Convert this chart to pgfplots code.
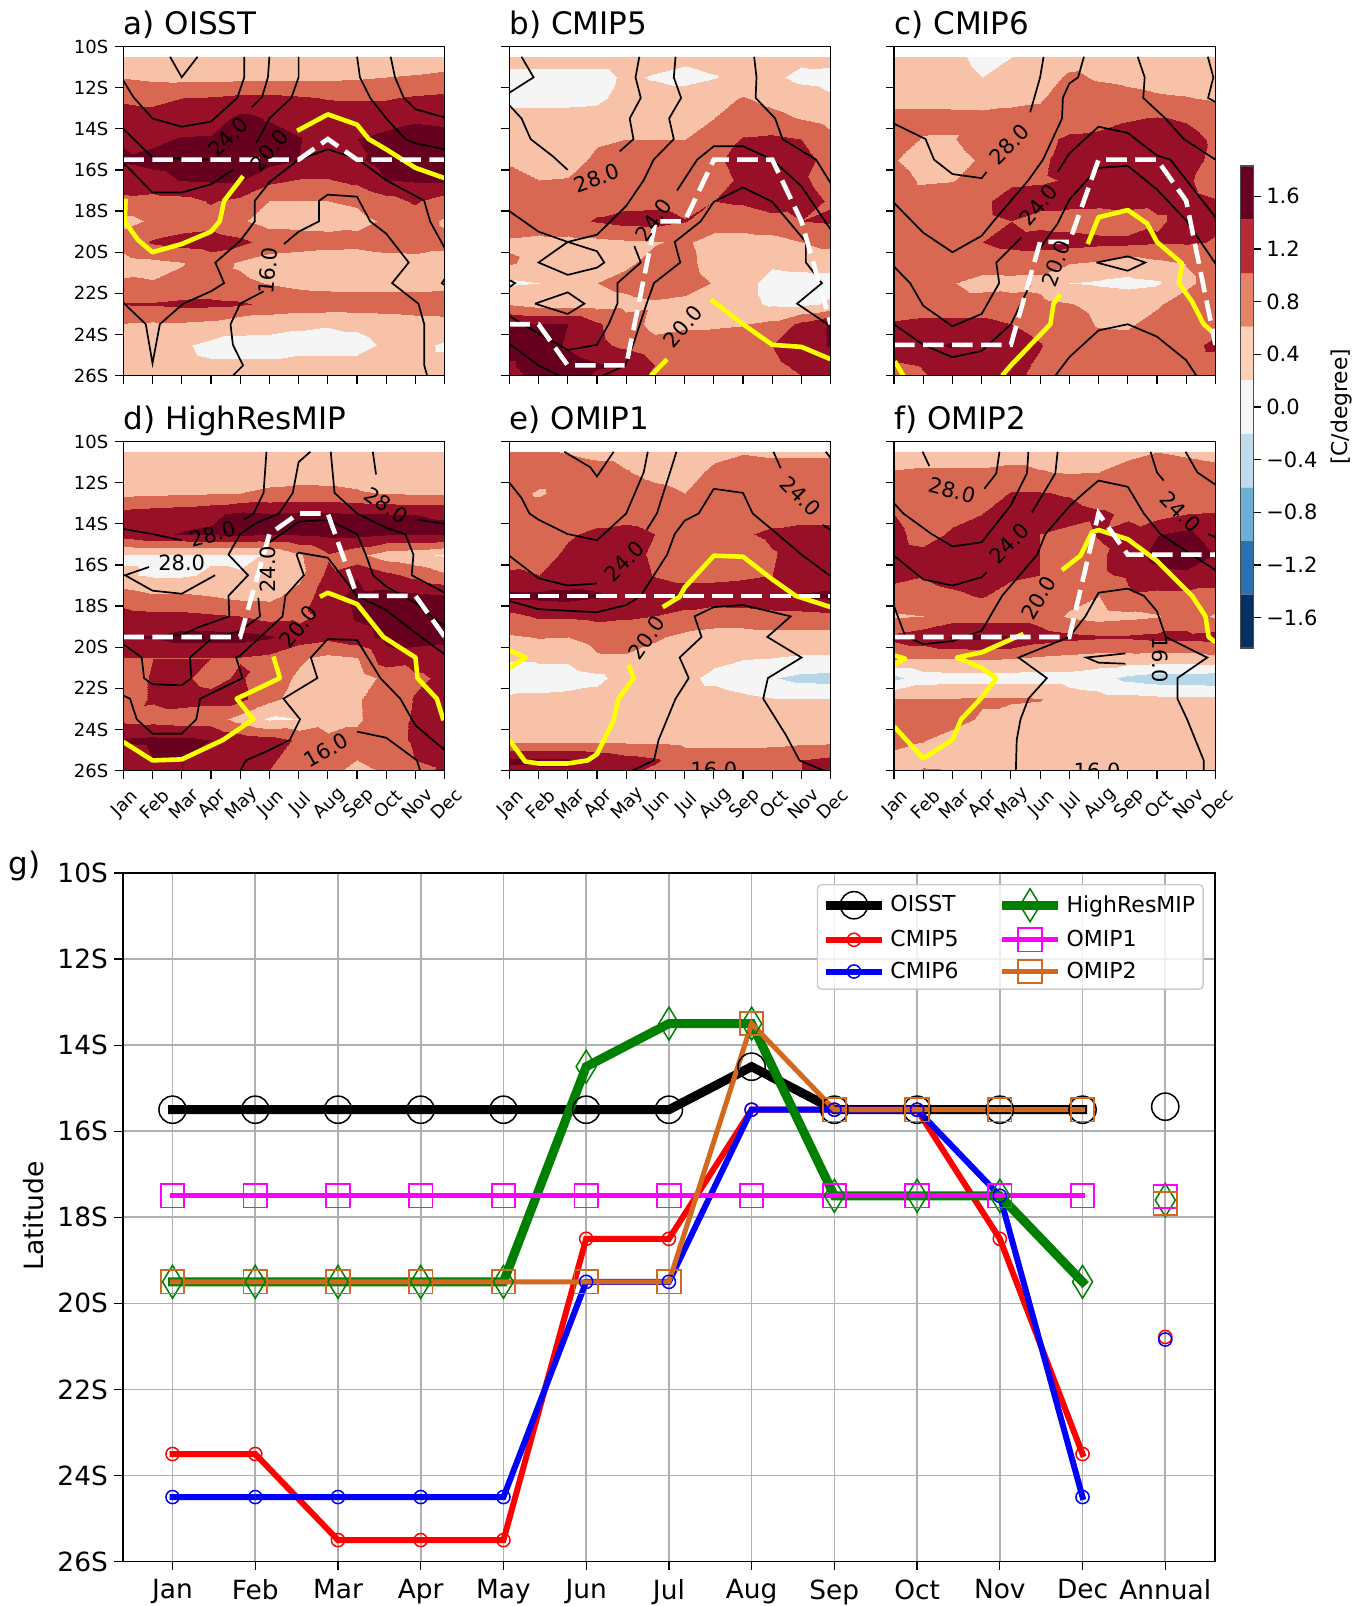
\documentclass[border=0pt]{standalone}
\usepackage{fontspec}
\setmainfont{DejaVu Sans}
\usepackage{pgfplots}
\pgfplotsset{compat=1.18}
\definecolor{gridc}{RGB}{176,176,176}
\definecolor{omiptwo}{RGB}{210,105,30}
\definecolor{hrgreen}{RGB}{0,128,0}
\definecolor{mgt}{RGB}{255,0,255}
\definecolor{yel}{RGB}{255,255,0}
\newcommand\fs[1]{\fontsize{#1}{#1}\selectfont}
\pgfplotsset{
 colormap={bands}{rgb255=(5,48,97) rgb255=(33,102,172) rgb255=(90,160,205) rgb255=(182,215,232) rgb255=(245,245,245) rgb255=(248,194,168) rgb255=(217,104,82) rgb255=(152,16,40) rgb255=(103,0,31)},
 bandfill/.style={surf,shader=interp,mesh/cols=12,point meta=explicit,colormap name=bands,colormap access=piecewise constant},
 panel/.style={scale only axis,width=160.7pt,height=164.6pt,xmin=0,xmax=11,ymin=10,ymax=26,y dir=reverse,
  point meta min=-1.8,point meta max=1.8,clip mode=global,axis on top,
  xtick={0,...,11},ytick={10,12,...,26},xticklabels={},yticklabels={},
  xtick pos=bottom,ytick pos=left,tick align=outside,major tick length=4pt,
  tick style={black,line width=.6pt},axis line style={line width=.65pt},
  title style={at={(0,1)},anchor=south west,inner xsep=0pt,inner ysep=3pt,text depth=3.2pt,yshift=-6.3pt,font=\fs{15.5}}},
 ylab/.style={yticklabels={10S,12S,14S,16S,18S,20S,22S,24S,26S},yticklabel style={font=\fs{9}}},
 xlab/.style={xticklabels={Jan,Feb,Mar,Apr,May,Jun,Jul,Aug,Sep,Oct,Nov,Dec},xticklabel style={font=\fs{9},rotate=45,anchor=center,xshift=-8.3pt,yshift=-9.6pt}},
}
\newcommand\gridplot[1]{%
 \gdef\gcoords{}%
 \foreach \row [count=\j from 0] in {#1} {%
  \foreach \v [count=\i from 0] in \row {%
   \pgfmathsetmacro\la{10.5+\j}%
   \xdef\gcoords{\gcoords (\i,\la)[\v] }%
  }}%
 \edef\tmp{\noexpand\addplot[bandfill] coordinates {\gcoords};}\tmp}
\newcommand\cl[1]{\addplot[black,line width=.85pt,no markers] coordinates {#1};}
\newcommand\yl[1]{\addplot[yel,line width=2.3pt,no markers,line join=round] coordinates {#1};}
\newcommand\wl[1]{\addplot[white,line width=2.3pt,no markers,dash pattern=on 10.3pt off 4.2pt] coordinates {#1};}
\newcommand\lab[4]{\node[rotate=#3,font=\fs{10.5},inner sep=0pt] at (axis cs:#1,#2) {#4};}
\begin{document}
\begin{tikzpicture}
\path[use as bounding box] (0,0) rectangle (685.5pt,803pt);
% ---------- a
\begin{axis}[panel,ylab,title={a) OISST},at={(61.65pt,615.15pt)},anchor=south west]
\gridplot{
{.42,.42,.42,.42,.42,.42,.42,.42,.42,.42,.45,.48},
{.58,.52,.5,.48,.5,.5,.5,.52,.55,.6,.62,.65},
{.95,.9,1,1.03,1.1,1.1,1.05,.98,.97,.97,1.05,1.1},
{1.15,1.15,1.2,1.2,1.5,1.37,1.25,1.2,1.2,1.25,1.35,1.32},
{1.38,1.33,1.43,1.44,1.55,1.55,1.42,1.2,1.4,1.5,1.55,1.5},
{1.43,1.5,1.55,1.6,1.6,1.55,1.4,1.2,1.35,1.55,1.6,1.6},
{1.2,1.28,1.42,1.45,1.45,1.1,.98,.98,1.1,1.4,1.45,1.45},
{.9,.85,.87,1.03,.9,.6,.6,.6,.65,.85,1.05,.8},
{.5,.65,.8,.85,.65,.45,.45,.45,.5,.65,.8,.55},
{.75,1.05,1.15,1.2,1.1,.85,.8,.75,.72,.8,.8,.7},
{.45,.5,.58,.78,.55,.4,.35,.35,.35,.4,.45,.45},
{.65,.62,.7,.75,.68,.58,.5,.45,.42,.42,.42,.45},
{1.02,1.03,1.08,1.08,1.05,.92,.85,.85,.85,.85,.85,.85},
{.58,.55,.55,.5,.32,.3,.25,.22,.26,.35,.4,.45},
{.35,.3,.25,.1,.1,.1,.1,.1,.1,.25,.3,.15},
{.3,.3,.3,.25,.25,.25,.3,.3,.3,.3,.3,.3},
{.55,.4,.4,.4,.4,.4,.3,.3,.3,.25,.15,.1}}
\cl{(1.6,10.5)(2,11.5)(2.54,10.5)}
\cl{(0,11.65)(.34,12.45)(1,13.5)(2,13.9)(3,13.65)(3.9,12.5)(4.14,11.5)(4.14,10.5)}
\cl{(0,14)(1,15.4)(2,15.45)(2.9,15.5)}
\cl{(4.4,12.95)(4.75,12.45)(4.95,11.5)(5,10.5)}
\cl{(0,15.65)(1,17.1)(2,17.1)(3,16.7)(3.75,16)}
\cl{(4.55,14.7)(5,13.5)(5.75,12.5)(6,11.5)(6,10.5)}
\cl{(8,10.5)(8.1,11.5)(8.45,12.5)(9,13.5)(9.65,14.5)(10,14.7)(11,15)}
\cl{(9.15,10.5)(9.3,11.5)(9.6,12.5)(10,13.05)(11,13.45)}
\cl{(0,22.45)(.77,23.5)(1,25.4)(1.25,23.5)(2.05,22.5)(3,21.9)(3.45,21.5)(3.15,20.5)(4,19.45)(4.5,18.5)(4.5,17.5)(5,16.6)(6,15.5)(7,15)(8,15.45)(9,16.5)(10.3,17.5)(10.5,18.5)(11,19.8)}
\cl{(3.75,26)(4.1,25.5)(3.75,24.5)(3.67,23.5)(4,22.5)(4.8,21.9)}
\cl{(5.5,19.6)(6,19)(6.7,18.5)(6.7,17.5)(7,17.2)(8,17.3)(8.45,18.5)(9,19.1)(9.77,20.5)(9.2,21.5)(10.1,22.5)(10.3,23.5)(10.3,25.5)(10.4,26)}
\cl{(11,21.3)(10.9,21.5)(11,21.6)}
\yl{(.08,17.4)(.05,18.5)(.5,19.4)(1,20)(2,19.6)(3,19)(3.3,18.5)(3.45,17.5)(4.1,16.3)}
\yl{(5.95,14.1)(7,13.3)(8,13.8)(8.4,14.5)(9,15)(10,15.9)(11,16.4)}
\wl{(0,15.5)(1,15.5)(2,15.5)(3,15.5)(4,15.5)(5,15.5)(6,15.5)(7,14.5)(8,15.5)(9,15.5)(10,15.5)(11,15.5)}
\lab{3.6}{14.4}{45}{24.0}\lab{5}{15.05}{50}{20.0}\lab{4.96}{20.9}{85}{16.0}
\end{axis}
% ---------- b
\begin{axis}[panel,title={b) CMIP5},at={(254.65pt,615.15pt)},anchor=south west]
\gridplot{
{.35,.35,.35,.35,.35,.35,.28,.35,.35,.35,.3,.35},
{.1,.1,.1,.1,.25,.17,.1,.18,.3,.28,.1,.05},
{.1,.1,.1,.12,.35,.35,.35,.5,.62,.5,.4,.25},
{.32,.32,.32,.35,.38,.4,.45,.6,.8,.7,.58,.45},
{.38,.42,.45,.55,.6,.6,.6,.75,1.03,1.08,1,.7},
{.55,.4,.45,.68,.8,.75,.75,.95,1.1,1.2,1.15,.85},
{.75,.6,.62,.8,.85,.85,.85,.9,1.05,1.2,1.04,.9},
{.85,.85,.85,.9,.9,.9,.85,1,1.05,1.15,1.1,.97},
{.8,.8,.9,1.03,1.12,1.15,1.02,.8,.8,.9,1,1.05},
{.55,.5,.48,.5,.55,.58,.65,.45,.42,.45,.6,.75},
{.65,.45,.4,.45,.55,.7,.7,.45,.35,.24,.27,.3},
{.15,.2,.35,.6,.7,.8,.75,.58,.3,.1,.1,.1},
{.57,.45,.45,.45,.5,.55,.5,.4,.3,.15,.12,.25},
{1.45,1.42,1.4,1.05,.75,.5,.55,.55,.58,.7,1.1,1.45},
{1.55,1.6,1.35,1.1,.9,.7,.75,.78,.85,1,1.15,1.45},
{1.35,1.6,1.6,1.45,1.4,1,.75,.75,.85,.95,1.05,1.15},
{1.2,1.6,1.5,1.2,1.1,.9,.75,.7,.75,.85,.95,1.1}}
\cl{(.42,10.5)(.83,11.5)(0,12.25)}
\cl{(0,12.85)(.42,13.5)(.73,14.5)(1.5,15.35)(2,16)}
\cl{(4.45,10.5)(4.32,11.5)(4.5,12.5)(4.12,13.5)(4.25,14.5)(3.78,15.1)}
\cl{(5.69,10.5)(5.63,11.5)(5.88,12.5)(5.47,13.5)(5.63,14.5)(4.94,15.5)(4.6,16.5)(4,17.75)(3,19.15)(2,19.5)(1,20.5)(2,21.1)(3,20.75)(3.25,20.5)(3,19.95)(2,19.5)(1,19)(0,18)}
\cl{(8.38,10.5)(8.46,11.5)(8.43,12.5)(9.1,13.5)(9.35,14.5)(10.5,15.5)(11,16.65)}
\cl{(5.74,17)(6.43,15.5)(7,14.85)(8,14.85)(9,15.5)(10,16.8)(11,18.9)}
\cl{(4.28,19.7)(4.5,20.5)(3.7,21.5)(3.7,22.5)(3.4,23.5)(3,24.5)(2,24.75)(1,23.95)(0,23.1)}
\cl{(3.2,26)(3.97,25.5)(4.25,24.45)(4.7,22.5)(4.95,21.5)(5.85,20.5)(5.66,19.5)(6.55,18.5)(7,17.55)(8,16.85)(9,17.55)(10.15,19.5)(10.15,20.5)(10.7,21.5)(9.85,22.5)(11,23.6)}
\cl{(0,21.35)(.2,21.5)(0,21.7)}
\cl{(.88,22.5)(2,21.95)(2.57,22.5)(2,23)(.88,22.5)}
\cl{(0,24.45)(1,25.5)(1.7,26)}
\yl{(6.9,22.3)(8,23.5)(9,24.5)(10,24.6)(11,25.2)}
\yl{(4.85,26)(5.4,25.2)}
\wl{(0,23.5)(1,23.5)(2,25.5)(3,25.5)(4,25.5)(5,18.5)(6,18.5)(7,15.5)(8,15.5)(9,15.5)(10,18.5)(11,23.5)}
\lab{3}{16.4}{20}{28.0}\lab{4.94}{18.45}{55}{24.0}\lab{5.95}{23.6}{50}{20.0}
\end{axis}
% ---------- c
\begin{axis}[panel,title={c) CMIP6},at={(447pt,615.15pt)},anchor=south west]
\gridplot{
{.4,.4,.3,.1,.2,.4,.4,.42,.42,.42,.42,.42},
{.4,.4,.35,.2,.35,.35,.68,.55,.5,.45,.4,.4},
{.42,.45,.45,.45,.5,.55,.85,.8,.72,.65,.62,.55},
{.75,.75,.72,.7,.72,.75,.85,.85,.97,1.02,.97,.85},
{.85,.57,.57,.8,.85,.92,1.05,1.1,1.15,1.15,1.1,.95},
{.62,.45,.45,.65,.85,.95,1.1,1.2,1.3,1.3,1.15,.9},
{.75,.55,.58,.75,.95,.97,1.02,1.2,1.25,1.2,1.05,.85},
{.8,.8,.8,.95,1.1,1.1,1.1,1.1,1.15,1.1,1.1,1.02},
{.8,.8,.85,.95,1,.9,.85,.8,.8,.95,1.1,1.05},
{.75,.75,.8,1,1.1,1.15,1.15,1.1,1.1,1.05,1.05,.98},
{.8,.8,.8,.8,.8,.75,.62,.55,.4,.52,.62,.8},
{.8,.8,.62,.45,.48,.5,.2,.15,.1,.15,.5,.8},
{.8,.8,.8,.8,.75,.7,.62,.5,.45,.55,.8,.85},
{1.05,1.1,1.1,1.1,1,.85,.75,.57,.55,.75,.85,.85},
{1.2,1.3,1.45,1.38,1.2,1.02,.8,.75,.75,.8,.85,1.1},
{.95,1.02,1.1,1.15,1.1,.95,.75,.8,.8,.8,.8,.8},
{.8,.95,1.05,1.1,1.05,.85,.75,.7,.7,.75,.8,.8}}
\cl{(0,13.75)(1.08,14.5)(1.37,15.5)(2,16.2)(3,16.4)(3.17,16.1)}
\cl{(4.66,13.2)(5,11.5)(5.12,10.5)}
\cl{(0,17.6)(1,19.05)(2,20)(3,19.2)(3.4,18.5)(4,17.5)(4.6,16.5)(5.1,15.5)(5.75,13.5)(5.78,12.5)(6,11.8)(6.3,11.5)(6.5,10.5)}
\cl{(0,20.7)(.55,21.5)(1,22.6)(2,23.6)(3,23)(3.6,21.5)(3.5,20.5)(4.35,19.3)}
\cl{(5.6,16.1)(6,15.2)(7,13.9)(8,14.2)(9,15.3)(9.46,15.5)(11,18.3)}
\cl{(0,23.5)(1,24.5)(2,25.1)(3,24.8)(4,23.5)(4.65,21.6)}
\cl{(5,19.8)(5.6,18.6)(6,17.45)(6.6,16.5)(7,15.9)(8,15.8)(9,16.95)(10,18.45)(11,20.55)}
\cl{(8.34,10.5)(8.58,11.5)(8.53,12.5)(9.29,13.5)(9.92,14.5)(11,15.5)}
\cl{(10.74,10.5)(10.93,11.5)(10.75,12.5)(11,12.7)}
\cl{(6.93,20.5)(8,20.2)(8.6,20.5)(8,20.9)(6.93,20.5)}
\cl{(5.52,26)(6,25.1)(7,23.8)(8,23.5)(9,24.1)(10,25.25)(10.35,26)}
\yl{(.03,25.3)(.32,26)}
\yl{(3.7,26)(4,25.5)(5.35,23.5)(5.46,22.5)(5.7,22.05)}
\yl{(6.63,19.6)(7,18.3)(8,17.95)(8.66,18.6)(9,19.5)(9.86,20.55)(9.75,21.5)(10.2,22.4)(10.6,23.5)(11,24)}
\wl{(0,24.5)(1,24.5)(2,24.5)(3,24.5)(4,24.5)(5,19.5)(6,19.5)(7,15.5)(8,15.5)(9,15.5)(10,17.5)(11,24.5)}
\lab{3.95}{14.75}{45}{28.0}\lab{4.95}{17.7}{50}{24.0}\lab{5.55}{20.55}{70}{20.0}
\end{axis}
% ---------- d
\begin{axis}[panel,ylab,xlab,title={d) HighResMIP},at={(61.65pt,417.65pt)},anchor=south west]
\gridplot{
{.42,.42,.42,.42,.42,.42,.42,.42,.42,.42,.42,.42},
{.4,.4,.4,.4,.4,.4,.42,.42,.4,.22,.4,.4},
{.5,.52,.55,.57,.6,.68,.72,.7,.65,.58,.55,.55},
{1.15,1.2,1.25,1.33,1.48,1.42,1.45,1.45,1.42,1.4,1.4,1.38},
{1.2,1.35,1.42,1.45,1.5,1.42,1.45,1.5,1.5,1.45,1.45,1.45},
{.15,.15,.15,.15,.15,.22,.55,.95,.7,.4,.3,.15},
{.25,.15,.15,.25,.22,.35,.5,1.1,1.38,1.1,.9,.65},
{.8,.65,.65,.6,.5,.5,.75,1.25,1.5,1.55,1.5,1.45},
{1.15,1.1,1.1,1.05,1,.85,.9,1.1,1.45,1.55,1.6,1.6},
{1.45,1.42,1.55,1.55,1.55,1.45,1.2,1.1,1.25,1.5,1.6,1.55},
{1,1,1,1,.98,.9,.65,.5,.58,1.25,1.15,1.15},
{.75,1.05,1.05,.9,1.05,.75,.55,.4,.4,.7,.95,1.05},
{.8,1.05,1.15,1.1,1.1,.7,.45,.4,.55,.85,1.02,1.1},
{.9,.85,.8,.8,.45,.15,.2,.4,.55,.8,1.05,1.15},
{1.45,1.5,1.5,1.4,1.25,1.15,.95,.7,.7,.85,1.05,1.1},
{1.1,1.4,1.4,1.1,1.1,1.05,.85,.65,.6,.75,1,1.1},
{1.05,1.2,1.42,1.05,1,.95,.8,.6,.4,.45,.8,1.1}}
\cl{(0,14.25)(1,14.5)(2,14.8)}
\cl{(4.13,13.8)(4.46,13.5)(4.8,12.5)(4.9,10.5)}
\cl{(3.14,16.5)(2,17.4)(1,17.25)(.06,16.5)(.88,16.1)}
\cl{(6.4,10.5)(6,11)(5.8,12.5)(5.33,13.5)(4.5,14)(4,14.5)(3.6,15.5)(4.27,16.5)(3.6,17.5)(3.63,18.5)(2.62,19)(2,19.4)(1,19.5)}
\cl{(0,19.85)(.63,20.5)(.71,21.5)(1,21.8)(2,21.85)(2.33,21.5)(2.28,20.5)(3,19.6)(4,19.2)(4.68,18.5)(4.62,17.6)}
\cl{(5,14.9)(6,13.9)(7,13.8)(8,14.5)(8.3,15.5)(8.55,16.5)(9,17.05)(10,17.85)(11,19)}
\cl{(7.1,10.5)(7.23,12.5)(8,13.5)(9,14.2)(9.65,14.5)(9.93,15.5)(9.87,16.5)(11,17.35)}
\cl{(0,22.35)(.23,22.5)(.46,23.5)(1,24.2)(2,24.2)(2.5,23.5)(2.63,22.5)(4.08,21.5)(3.86,20.5)(4,20.4)(5.45,18.5)(5.55,17.5)(6.18,16.5)(5.93,15.5)(6,15.4)(7,15.65)(8,17.5)(9,18.2)(10,19.3)(11,20.35)}
\cl{(4,26)(4.2,25.5)(5,25)(5.7,24.5)(6.05,23.5)(5.48,22.5)(6.64,21.5)(6.42,20.5)(7,19.6)(8,19.65)(8.8,21.5)(9.48,22.5)(10,23.8)(11,25)}
\cl{(8,24.1)(9,24.4)(10.05,25.5)(10.16,26)}
\cl{(8.54,10.5)(8.65,11.6)}
\cl{(10.07,13.8)(11,14)}
\yl{(0,24.6)(1,25.5)(2,25.45)(3.42,24.5)(4.45,23.5)(3.88,22.5)(5.36,21.5)(5.14,20.45)}
\yl{(6.73,17.55)(7,17.35)(8,17.9)(8.9,19.5)(10,20.5)(10.07,21.5)(10.73,22.5)(10.96,23.55)}
\wl{(0,19.5)(1,19.5)(2,19.5)(3,19.5)(4,19.5)(5,14.5)(6,13.5)(7,13.5)(8,17.5)(9,17.5)(10,17.5)(11,19.5)}
\lab{3.08}{14.5}{15}{28.0}\lab{2}{15.9}{0}{28.0}\lab{9}{13.1}{-35}{28.0}\lab{4.96}{16.2}{90}{24.0}\lab{6}{19}{50}{20.0}\lab{6.95}{25}{30}{16.0}
\end{axis}
% ---------- e
\begin{axis}[panel,xlab,title={e) OMIP1},at={(254.65pt,417.65pt)},anchor=south west]
\gridplot{
{.7,.65,.58,.5,.48,.45,.45,.5,.58,.55,.55,.55},
{.8,.8,.8,.75,.62,.5,.45,.68,.75,.75,.75,.75},
{.75,.55,.75,.85,.8,.7,.6,.8,.85,.85,.85,.85},
{.85,.85,.85,.9,.9,.85,.8,.85,.85,.9,.9,.9},
{.85,.85,.97,1.05,1.1,1,.85,.8,.97,1.05,1.1,1.1},
{.85,.9,1.05,1.15,1.1,.95,.8,.75,.85,.98,1.1,1.1},
{1.05,1,1.15,1.2,1.15,.98,.9,.9,.93,1,1.1,1.15},
{1.5,1.5,1.52,1.45,1.2,1.2,1.2,1.2,1.25,1.35,1.45,1.5},
{.9,1.05,1.05,1.1,1.05,1,.9,.8,.8,.85,.85,.9},
{.55,.62,.6,.75,.78,.65,.5,.45,.45,.45,.45,.45},
{.28,.28,.28,.55,.55,.45,.4,.3,.22,.2,.15,.15},
{-.2,0,0,.1,.38,.38,.3,.1,-.05,-.18,-.3,-.35},
{.3,.3,.33,.35,.4,.4,.4,.4,.3,.22,.22,.22},
{.4,.4,.4,.4,.4,.4,.4,.4,.4,.4,.4,.4},
{.5,.5,.5,.5,.5,.5,.48,.48,.48,.48,.5,.5},
{1.45,1.45,1.45,1.3,1.15,1.05,.8,.8,.8,.85,1,1.1},
{1.2,1.3,1.3,1.1,.95,.8,.8,.8,.8,.9,1,1.1}}
\cl{(1.88,10.5)(2.77,11.25)(3,11.7)(3.57,10.5)}
\cl{(0,12)(.42,12.75)(.69,13.5)(1,13.8)(2,14.5)(3,14.8)(4,13.5)(4.6,11.5)(4.74,10.5)}
\cl{(0,15.55)(1,16.65)(2,17)(3,16.9)}
\cl{(4.7,14.3)(5.05,13.5)(5.5,11.5)(5.72,10.5)}
\cl{(0,17.75)(1,18.15)(3,18.3)(4,17.95)(4.5,17.5)(5.4,15.5)(5.66,14.5)(6,13.85)(6.48,13.5)(7,12.3)(8,12.5)(8.33,13.5)(9.05,14.35)(10,15.5)(11,16.55)}
\cl{(4.2,26)(4.95,25.5)(5.11,24.5)(5.69,22.5)(6.14,21.5)(5.83,20.5)(6.58,19.5)(6.34,18.5)(7,18.05)(8,17.95)(9.63,18.5)(8.83,19.5)(10,20.5)(8.85,21.5)(8.69,22.5)(9.46,24.25)(9.93,25.5)(10.78,26)}
\cl{(9.04,10.5)(9.29,11.3)}
\cl{(10.72,14.05)(11,14.3)}
\cl{(10.83,10.5)(11,10.8)}
\yl{(0,20.15)(.57,20.5)(0,21)}
\yl{(0,24.5)(.54,25.55)(1,25.65)(2,25.65)(2.68,25.5)(3,25.2)(3.57,23.55)(3.74,22.5)(4.25,21.5)(4.08,20.85)}
\yl{(5.25,18.05)(5.83,17.55)(6,17.1)(7,15.55)(8,15.6)(9,16.7)(9.8,17.5)(11,18.05)}
\wl{(0,17.5)(1,17.5)(2,17.5)(3,17.5)(4,17.5)(5,17.5)(6,17.5)(7,17.5)(8,17.5)(9,17.5)(10,17.5)(11,17.5)}
\lab{9.98}{12.66}{-45}{24.0}\lab{3.94}{15.83}{45}{24.0}\lab{4.71}{19.53}{55}{20.0}\lab{7}{25.97}{0}{16.0}
\end{axis}
% ---------- f
\begin{axis}[panel,xlab,title={f) OMIP2},at={(447pt,417.65pt)},anchor=south west]
\gridplot{
{.45,.45,.45,.45,.45,.45,.45,.5,.5,.6,.55,.5},
{.62,.65,.65,.65,.7,.62,.57,.6,.75,.8,.75,.7},
{.75,.75,.75,.78,1.02,1.02,.97,.8,.8,.8,.8,.8},
{1,.8,.9,1,1.15,1.15,1.15,1.05,.95,.85,1,1.02},
{1.1,.85,1.05,1.1,1.15,1,.9,1.02,1.1,1.38,1.5,1.2},
{1.15,1.1,1.2,1.2,1.15,1,.85,.95,1.15,1.55,1.7,1.38},
{1.1,1.02,1.1,1.15,1.05,1,.85,.95,1.05,1.25,1.3,1.15},
{.85,.9,.95,1.02,.88,.85,.75,.6,.95,.9,.9,.9},
{.55,.6,.8,.8,.8,.8,.55,.45,.5,.57,.8,.55},
{1.1,1.25,1.42,1.5,1.42,1.2,1.1,1.05,1.05,1.1,1.1,1.15},
{.65,.62,.62,.65,.62,.55,.5,.45,.45,.42,.42,.5},
{-.3,0,.05,.05,.05,.05,.05,-.05,-.3,-.4,-.4,-.45},
{.6,.62,.62,.65,.65,.62,.4,.35,.35,.3,.3,.3},
{.8,.8,.75,.55,.45,.45,.4,.4,.4,.4,.4,.4},
{.75,.62,.45,.4,.4,.4,.4,.4,.4,.4,.4,.4},
{.45,.45,.42,.4,.4,.4,.4,.4,.4,.4,.4,.4},
{.5,.85,.6,.5,.4,.4,.4,.4,.4,.4,.4,.4}}
\cl{(.98,10.5)(1.21,11.2)}
\cl{(3.09,12.3)(3.5,11.55)(3.61,10.5)}
\cl{(0,13)(.32,13.5)(1.29,14.5)(2,15.1)(3,14.9)(4,13.1)(4.55,11.55)(4.6,10.5)}
\cl{(0,15.55)(1,16.7)(2,17)(3,16.6)(3.17,16.35)}
\cl{(4.72,13.45)(5.52,11.55)(5.6,10.5)}
\cl{(0,18)(.38,19.45)(1,19.85)(2,19.7)(3,19.2)(3.7,17.5)(4.9,15.5)(5.18,14.5)(6,13.15)(6.5,12.5)(7,11.9)(8,12.2)(8.55,13.5)(9.12,14.5)(11,16.25)}
\cl{(4.17,26)(4.2,24.5)(4.33,23.5)(4.6,22.5)(5.23,21.5)(4.26,20.5)(6,19.5)(6.55,18.5)(7,17.35)(8,17.15)(8.55,17.5)(9,18.25)(9.3,19.5)(10.72,20.5)(9.7,21.5)(9.7,22.5)(10.03,23.5)(10.6,25.5)(10.6,26)}
\cl{(8.78,10.5)(9,11.5)(9.23,11.9)}
\cl{(9.98,10.5)(10.38,11.5)(11,12.1)}
\cl{(10.74,14.5)(11,14.65)}
\cl{(7.92,20.3)(6.58,20.5)(7,20.75)(7.92,20.8)}
\yl{(0,20.4)(.38,20.55)(0,20.85)}
\yl{(0,23.85)(1,25.4)(2,24.5)(2.3,23.5)(3,22.45)(3.5,21.5)(3,21)(2.15,20.5)(3,20.25)(4.43,19.35)}
\yl{(5.75,16.25)(6.38,15.55)(6.78,14.4)(7,14.3)(8,14.75)(9,15.8)(10.2,17.5)(10.66,18.5)(10.77,19.5)(11,19.75)}
\wl{(0,19.5)(1,19.5)(2,19.5)(3,19.5)(4,19.5)(5,19.5)(6,19.5)(7,13.5)(8,15.5)(9,15.5)(10,15.5)(11,15.5)}
\lab{2}{12.39}{-15}{28.0}\lab{9.8}{13.43}{-45}{24.0}\lab{3.95}{14.95}{45}{24.0}\lab{4.95}{17.6}{60}{20.0}\lab{9.1}{20.6}{-90}{16.0}\lab{6.95}{26}{0}{16.0}
\end{axis}
% ---------- colourbar
\begin{axis}[scale only axis,width=6.3pt,height=241pt,at={(620.35pt,479pt)},anchor=south west,
 xmin=0,xmax=1,ymin=-1.83,ymax=1.83,xtick=\empty,ytick={-1.6,-1.2,-.8,-.4,0,.4,.8,1.2,1.6},
 yticklabels={−1.6,−1.2,−0.8,−0.4,0.0,0.4,0.8,1.2,1.6},
 ytick pos=right,tick align=outside,major tick length=4pt,tick style={black,line width=.6pt},
 yticklabel style={font=\fs{10.5},anchor=west,xshift=-1pt},axis on top,axis line style={line width=.65pt,black!70}]
\addplot[fill={rgb,255:red,5;green,48;blue,97},draw=none] coordinates {(0,-1.83)(1,-1.83)(1,-1.423)(0,-1.423)} \closedcycle;
\addplot[fill={rgb,255:red,42;green,112;blue,178},draw=none] coordinates {(0,-1.423)(1,-1.423)(1,-1.017)(0,-1.017)} \closedcycle;
\addplot[fill={rgb,255:red,110;green,174;blue,212},draw=none] coordinates {(0,-1.017)(1,-1.017)(1,-.61)(0,-.61)} \closedcycle;
\addplot[fill={rgb,255:red,192;green,220;blue,236},draw=none] coordinates {(0,-.61)(1,-.61)(1,-.203)(0,-.203)} \closedcycle;
\addplot[fill={rgb,255:red,247;green,247;blue,247},draw=none] coordinates {(0,-.203)(1,-.203)(1,.203)(0,.203)} \closedcycle;
\addplot[fill={rgb,255:red,253;green,208;blue,184},draw=none] coordinates {(0,.203)(1,.203)(1,.61)(0,.61)} \closedcycle;
\addplot[fill={rgb,255:red,229;green,130;blue,104},draw=none] coordinates {(0,.61)(1,.61)(1,1.017)(0,1.017)} \closedcycle;
\addplot[fill={rgb,255:red,185;green,42;blue,55},draw=none] coordinates {(0,1.017)(1,1.017)(1,1.423)(0,1.423)} \closedcycle;
\addplot[fill={rgb,255:red,103;green,0;blue,31},draw=none] coordinates {(0,1.423)(1,1.423)(1,1.83)(0,1.83)} \closedcycle;
\end{axis}
\node[rotate=90,font=\fs{10.9}] at (670.8pt,599.6pt) {[C/degree]};
% ---------- g
\begin{axis}[scale only axis,width=546pt,height=344.3pt,at={(61.45pt,22.2pt)},anchor=south west,
 xmin=-.6,xmax=12.6,ymin=10,ymax=26,y dir=reverse,
 xtick={0,...,12},xticklabels={Jan,Feb,Mar,Apr,May,Jun,Jul,Aug,Sep,Oct,Nov,Dec,Annual},
 ytick={10,12,...,26},yticklabels={10S,12S,14S,16S,18S,20S,22S,24S,26S},
 xtick pos=bottom,ytick pos=left,tick align=outside,major tick length=4pt,
 tick style={black,line width=.6pt},axis line style={line width=.65pt},
 ticklabel style={font=\fs{13.2}},xticklabel style={yshift=-1.5pt},
 xmajorgrids,ymajorgrids,grid style={gridc,line width=.85pt},
 legend style={at={(.9899,.984)},anchor=north east,font=\fs{11},draw=black!20,line width=.7pt,fill=white,fill opacity=.8,text opacity=1,draw opacity=1,rounded corners=2pt,inner xsep=2pt,inner ysep=2pt,row sep=2.2pt},
 legend columns=2,legend cell align=left,
 legend image code/.code={\draw[mark repeat=2,mark phase=2,#1] plot coordinates {(0pt,0pt)(14pt,0pt)(28pt,0pt)};},
 /tikz/every even column/.append style={column sep=17.5pt},
 line cap=rect,
 loisst/.style={black,line width=4.5pt,mark=o,mark size=6.8pt,mark options={solid,line width=.75pt,fill=none,line cap=butt}},
 lcmipf/.style={red,line width=3pt,mark=o,mark size=3.3pt,mark options={solid,line width=.75pt,fill=none}},
 lcmips/.style={blue,line width=3pt,mark=o,mark size=3.3pt,mark options={solid,line width=.75pt,fill=none}},
 lhr/.style={hrgreen,line width=4.5pt,mark=diamond,mark size=8.25pt,mark options={solid,line width=.75pt,fill=none,xscale=.81}},
 lomo/.style={mgt,line width=2.5pt,mark=square,mark size=5.85pt,mark options={solid,line width=.9pt,fill=none}},
 lomt/.style={omiptwo,line width=2.5pt,mark=square,mark size=5.85pt,mark options={solid,line width=.9pt,fill=none}},
 ]
\addplot[loisst,forget plot] coordinates {(0,15.5)(1,15.5)(2,15.5)(3,15.5)(4,15.5)(5,15.5)(6,15.5)(7,14.5)(8,15.5)(9,15.5)(10,15.5)(11,15.5)};
\addplot[loisst,only marks,forget plot] coordinates {(12,15.43)};
\addplot[lcmipf,forget plot] coordinates {(0,23.5)(1,23.5)(2,25.5)(3,25.5)(4,25.5)(5,18.5)(6,18.5)(7,15.5)(8,15.5)(9,15.5)(10,18.5)(11,23.5)};
\addplot[lcmipf,only marks,forget plot] coordinates {(12,20.78)};
\addplot[lcmips,forget plot] coordinates {(0,24.5)(1,24.5)(2,24.5)(3,24.5)(4,24.5)(5,19.5)(6,19.5)(7,15.5)(8,15.5)(9,15.5)(10,17.5)(11,24.5)};
\addplot[lcmips,only marks,forget plot] coordinates {(12,20.84)};
\addplot[lhr,forget plot] coordinates {(0,19.5)(1,19.5)(2,19.5)(3,19.5)(4,19.5)(5,14.5)(6,13.5)(7,13.5)(8,17.5)(9,17.5)(10,17.5)(11,19.5)};
\addplot[lhr,only marks,forget plot] coordinates {(12,17.6)};
\addplot[lomo,forget plot] coordinates {(0,17.5)(1,17.5)(2,17.5)(3,17.5)(4,17.5)(5,17.5)(6,17.5)(7,17.5)(8,17.5)(9,17.5)(10,17.5)(11,17.5)};
\addplot[lomo,only marks,forget plot] coordinates {(12,17.52)};
\addplot[lomt,forget plot] coordinates {(0,19.5)(1,19.5)(2,19.5)(3,19.5)(4,19.5)(5,19.5)(6,19.5)(7,13.5)(8,15.5)(9,15.5)(10,15.5)(11,15.5)};
\addplot[lomt,only marks,forget plot] coordinates {(12,17.68)};
\addlegendimage{loisst}\addlegendentry{OISST}
\addlegendimage{lhr}\addlegendentry{HighResMIP}
\addlegendimage{lcmipf}\addlegendentry{CMIP5}
\addlegendimage{lomo}\addlegendentry{OMIP1}
\addlegendimage{lcmips}\addlegendentry{CMIP6}
\addlegendimage{lomt}\addlegendentry{OMIP2}
\end{axis}
\node[font=\fs{15.5},anchor=base west,inner sep=0pt] at (4pt,365.5pt) {g)};
\node[rotate=90,font=\fs{13.3}] at (17pt,195pt) {Latitude};
\end{tikzpicture}
\end{document}
